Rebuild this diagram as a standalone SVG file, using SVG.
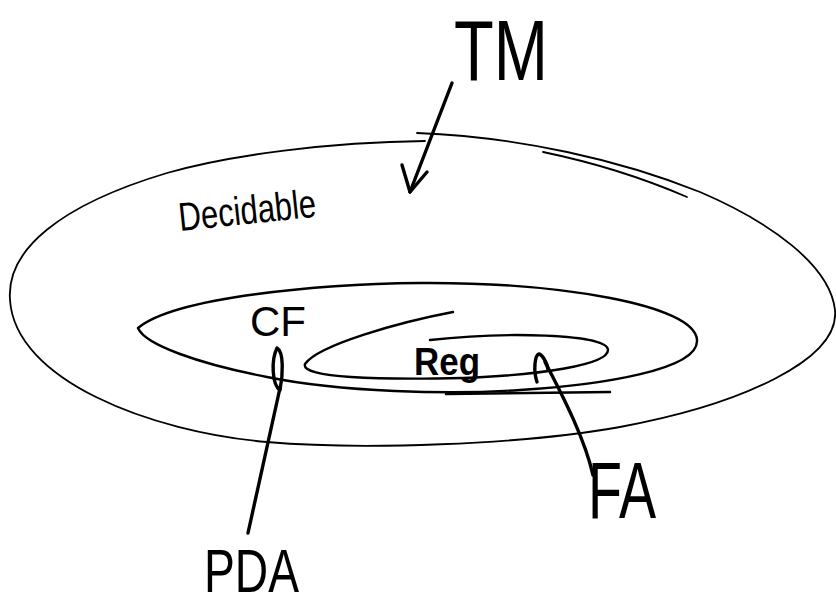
<svg xmlns="http://www.w3.org/2000/svg" width="836" height="607" viewBox="0 0 836 607">
  <style>
    .ink { fill: none; stroke: #000; stroke-linecap: round; stroke-linejoin: round; }
    .thin { stroke-width: 1.8; }
    .mid { stroke-width: 2.4; }
    .pen { stroke-width: 3.4; }
    .lbl { font-family: "Liberation Sans", "DejaVu Sans", sans-serif; fill: #000; }
  </style>
  <rect width="836" height="607" fill="#fff"/>

  <!-- Decidable languages: outer loop -->
  <g id="decidable">
    <path class="ink thin" d="M417,133 C520,137 620,160 700,192 C770,222 830,265 835,310 C840,360 740,405 620,427 C520,445 360,450 267,442 C150,432 15,380 10,300 C6,250 60,205 167,173 C230,155 330,142 425,141"/>
    <path class="ink thin" d="M543,152 Q620,168 687,197"/>
    <text class="lbl" x="180" y="231" font-size="40" textLength="138" lengthAdjust="spacingAndGlyphs" transform="rotate(-6 180 231)">Decidable</text>
  </g>

  <!-- Context-free languages: middle loop -->
  <g id="cf">
    <path class="ink mid" d="M138,328 C175,297 320,284 420,283 C560,282 695,305 697,340 C699,370 600,385 520,390 C450,395 340,392 267,377 C200,364 145,345 138,328"/>
    <path class="ink mid" d="M446,394 L610,392"/>
    <text class="lbl" x="250" y="336" font-size="42" textLength="56" lengthAdjust="spacingAndGlyphs">CF</text>
  </g>

  <!-- Regular languages: inner loop -->
  <g id="reg">
    <path class="ink mid" d="M453,312 C400,322 318,345 305,364 C300,378 380,380 463,378 C540,375 608,365 608,350 C608,333 500,332 430,340"/>
    <text class="lbl" x="414" y="375" font-size="38" font-weight="bold" textLength="66" lengthAdjust="spacingAndGlyphs">Reg</text>
  </g>

  <!-- Machine labels -->
  <g id="tm">
    <text class="lbl" x="454" y="80" font-size="86" textLength="94" lengthAdjust="spacingAndGlyphs">TM</text>
  </g>
  <g id="pda">
    <text class="lbl" x="204" y="592" font-size="62" textLength="95" lengthAdjust="spacingAndGlyphs">PDA</text>
  </g>
  <g id="fa">
    <text class="lbl" x="588" y="518" font-size="80" textLength="68" lengthAdjust="spacingAndGlyphs">FA</text>
  </g>

  <!-- Arrows from machines to their language classes -->
  <g id="connectors">
    <path class="ink pen" d="M452,83 L410,192"/>
    <path class="ink pen" d="M402,165 L410,192 L427,172"/>
    <path class="ink pen" d="M248,533 L280,388"/>
    <path class="ink pen" d="M280,390 C272,385 271,360 277,348 C284,352 283,375 280,390"/>
    <path class="ink pen" d="M593,475 C585,440 565,400 545,362"/>
    <path class="ink pen" d="M537,382 C533,370 535,355 539,354 C543,355 548,365 548,370"/>
  </g>
</svg>
